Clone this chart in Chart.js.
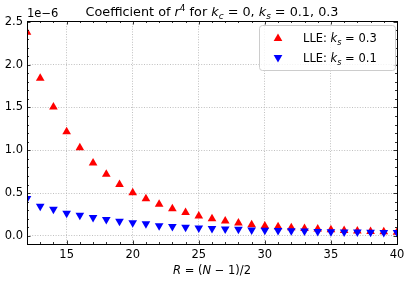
<!DOCTYPE html>
<html>
<head>
<meta charset="utf-8">
<script src="https://cdn.jsdelivr.net/npm/chart.js@4.4.0/dist/chart.umd.min.js"></script>
<style>
html,body{margin:0;padding:0;background:#fff;}
#wrap{width:409px;height:281px;position:relative;}
</style>
</head>
<body>
<div id="wrap"><canvas id="c" width="409" height="281"></canvas></div>
<script>
// ---- data (values in units of 1e-6) ----
const R_values = [12,13,14,15,16,17,18,19,20,21,22,23,24,25,26,27,28,29,30,31,32,33,34,35,36,37,38,39,40];
const coef_ks03 = [2.38,1.84,1.505,1.215,1.03,0.85,0.72,0.60,0.505,0.435,0.37,0.318,0.272,0.233,0.201,0.174,0.151,0.131,0.116,0.106,0.096,0.087,0.079,0.071,0.064,0.058,0.052,0.047,0.043];
const coef_ks01 = [0.437,0.347,0.31,0.265,0.241,0.216,0.19,0.171,0.152,0.142,0.118,0.108,0.1,0.092,0.085,0.081,0.076,0.07,0.065,0.062,0.059,0.056,0.052,0.048,0.046,0.044,0.042,0.04,0.038];
const xTicks = [15,20,25,30,35,40];
const yTicks = [0,0.5,1.0,1.5,2.0,2.5];
const xMinorTicks = [13,14,16,17,18,19,21,22,23,24,26,27,28,29,31,32,33,34,36,37,38,39];
const yMinorTicks = [-0.1,0.1,0.2,0.3,0.4,0.6,0.7,0.8,0.9,1.1,1.2,1.3,1.4,1.6,1.7,1.8,1.9,2.1,2.2,2.3,2.4];
const seriesLabels = [
  [{t:'LLE: '},{t:'k',i:1},{t:'s',i:1,sub:1},{t:' = 0.3'}],
  [{t:'LLE: '},{t:'k',i:1},{t:'s',i:1,sub:1},{t:' = 0.1'}]
];
const titleParts = [{t:'Coefficient of '},{t:'r',i:1},{t:'4',sup:1},{t:' for '},{t:'k',i:1},{t:'c',i:1,sub:1},{t:' = 0, '},{t:'k',i:1},{t:'s',i:1,sub:1},{t:' = 0.1, 0.3'}];
const xTitleParts = [{t:'R',i:1},{t:' = ('},{t:'N',i:1},{t:' \u2212 1)/2'}];
const offsetText = '1e\u22126';

const FONT = "'DejaVu Sans', sans-serif";

function richWidth(ctx, parts, size){
  let w=0;
  for(const p of parts){
    const s = (p.sub||p.sup)? size*0.7 : size;
    ctx.font = (p.i?'italic ':'') + s + 'px ' + FONT;
    w += ctx.measureText(p.t).width;
  }
  return w;
}
function drawRich(ctx, parts, x, y, size){
  ctx.textBaseline='alphabetic';
  ctx.textAlign='left';
  for(const p of parts){
    const s = (p.sub||p.sup)? size*0.7 : size;
    ctx.font = (p.i?'italic ':'') + s + 'px ' + FONT;
    let dy = 0;
    if(p.sub) dy = size*0.22;
    if(p.sup) dy = -size*0.42;
    ctx.fillText(p.t, x, y+dy);
    x += ctx.measureText(p.t).width;
  }
}

const mplPlugin = {
  id:'mpl',
  afterDatasetsDraw(chart){
    const ctx = chart.ctx;
    const a = chart.chartArea;
    const xs = chart.scales.x, ys = chart.scales.y;
    ctx.save();
    ctx.fillStyle='#000';
    ctx.strokeStyle='#000';
    // spines
    ctx.lineWidth=1;
    ctx.strokeRect(Math.round(a.left)+0.5, Math.round(a.top)+0.5, Math.round(a.right)-Math.round(a.left), Math.round(a.bottom)-Math.round(a.top));
    // ticks inward, all sides
    ctx.lineWidth=0.8;
    ctx.beginPath();
    const tick = (vals, len, isX)=>{
      for(const v of vals){
        if(isX){
          const px = Math.round(xs.getPixelForValue(v))+0.5;
          if(px < a.left || px > a.right) continue;
          ctx.moveTo(px, a.bottom); ctx.lineTo(px, a.bottom-len);
          ctx.moveTo(px, a.top); ctx.lineTo(px, a.top+len);
        } else {
          const py = Math.round(ys.getPixelForValue(v))+0.5;
          if(py < a.top || py > a.bottom) continue;
          ctx.moveTo(a.left, py); ctx.lineTo(a.left+len, py);
          ctx.moveTo(a.right, py); ctx.lineTo(a.right-len, py);
        }
      }
    };
    tick(xTicks,3.5,true); tick(yTicks,3.5,false);
    tick(xMinorTicks,2,true); tick(yMinorTicks,2,false);
    ctx.stroke();
    // offset text
    ctx.font = '11.5px ' + FONT;
    ctx.textAlign='left'; ctx.textBaseline='alphabetic';
    ctx.fillText(offsetText, a.left, 17);
    // title
    const tsz = 12.8;
    const tw = richWidth(ctx, titleParts, tsz);
    drawRich(ctx, titleParts, (a.left+a.right)/2 - tw/2, 16, tsz);
    // x axis title
    const xsz = 11.5;
    const xw = richWidth(ctx, xTitleParts, xsz);
    drawRich(ctx, xTitleParts, (a.left+a.right)/2 - xw/2, 274, xsz);
    // legend
    const lx = 259.5, ly = 25.5, lw = 136, lh = 45, r = 3;
    ctx.beginPath();
    ctx.moveTo(lx+r, ly); ctx.lineTo(lx+lw-r, ly); ctx.arcTo(lx+lw, ly, lx+lw, ly+r, r);
    ctx.lineTo(lx+lw, ly+lh-r); ctx.arcTo(lx+lw, ly+lh, lx+lw-r, ly+lh, r);
    ctx.lineTo(lx+r, ly+lh); ctx.arcTo(lx, ly+lh, lx, ly+lh-r, r);
    ctx.lineTo(lx, ly+r); ctx.arcTo(lx, ly, lx+r, ly, r);
    ctx.closePath();
    ctx.fillStyle='rgba(255,255,255,0.8)';
    ctx.fill();
    ctx.strokeStyle='#cccccc'; ctx.lineWidth=1;
    ctx.stroke();
    chart.data.datasets.forEach((ds, i)=>{
      const cy = 38 + i*20;
      const cx = 278;
      const rr = 5;
      ctx.save();
      ctx.translate(cx, cy);
      if(ds.pointRotation) ctx.rotate(Math.PI);
      ctx.beginPath();
      ctx.moveTo(0, -rr*0.9);
      ctx.lineTo(rr*0.87, rr*0.6);
      ctx.lineTo(-rr*0.87, rr*0.6);
      ctx.closePath();
      ctx.fillStyle = ds.backgroundColor;
      ctx.fill();
      ctx.restore();
      ctx.fillStyle='#000';
      drawRich(ctx, seriesLabels[i], 303, cy+4, 11.5);
    });
    ctx.restore();
  }
};

const tickFont = {family: FONT, size: 11.5};

new Chart(document.getElementById('c'), {
  type:'scatter',
  data:{
    datasets:[
      {label:'LLE: ks = 0.3', data: R_values.map((x,i)=>({x, y: coef_ks03[i]})),
       backgroundColor:'#ff0000', borderColor:'#ff0000', pointStyle:'triangle', pointRadius:5, pointBorderWidth:0, pointRotation:0, order:2, clip:0},
      {label:'LLE: ks = 0.1', data: R_values.map((x,i)=>({x, y: coef_ks01[i]})),
       backgroundColor:'#0000ff', borderColor:'#0000ff', pointStyle:'triangle', pointRadius:5, pointBorderWidth:0, pointRotation:180, order:1, clip:0}
    ]
  },
  options:{
    responsive:false,
    animation:false,
    devicePixelRatio:1,
    layout:{padding:{left:0, right:12, top:21, bottom:0}},
    plugins:{legend:{display:false}, tooltip:{enabled:false}, title:{display:false}},
    scales:{
      x:{
        type:'linear', min:12, max:40,
        afterBuildTicks: s => { s.ticks = xTicks.map(v=>({value:v})); },
        afterFit: s => { s.height = 37; },
        ticks:{font:tickFont, color:'#000', padding:4, autoSkip:false, maxRotation:0, callback: v => String(v)},
        grid:{color:'#b0b0b0', lineWidth:0.8, drawTicks:false},
        border:{display:false, dash:[1,1.6]}
      },
      y:{
        type:'linear', min:-0.095, max:2.51,
        afterBuildTicks: s => { s.ticks = yTicks.map(v=>({value:v})); },
        afterFit: s => { s.width = 27; },
        ticks:{font:tickFont, color:'#000', padding:4, autoSkip:false, callback: v => Number(v).toFixed(1)},
        grid:{color:'#b0b0b0', lineWidth:0.8, drawTicks:false},
        border:{display:false, dash:[1,1.6]}
      }
    }
  },
  plugins:[mplPlugin]
});
</script>
</body>
</html>
